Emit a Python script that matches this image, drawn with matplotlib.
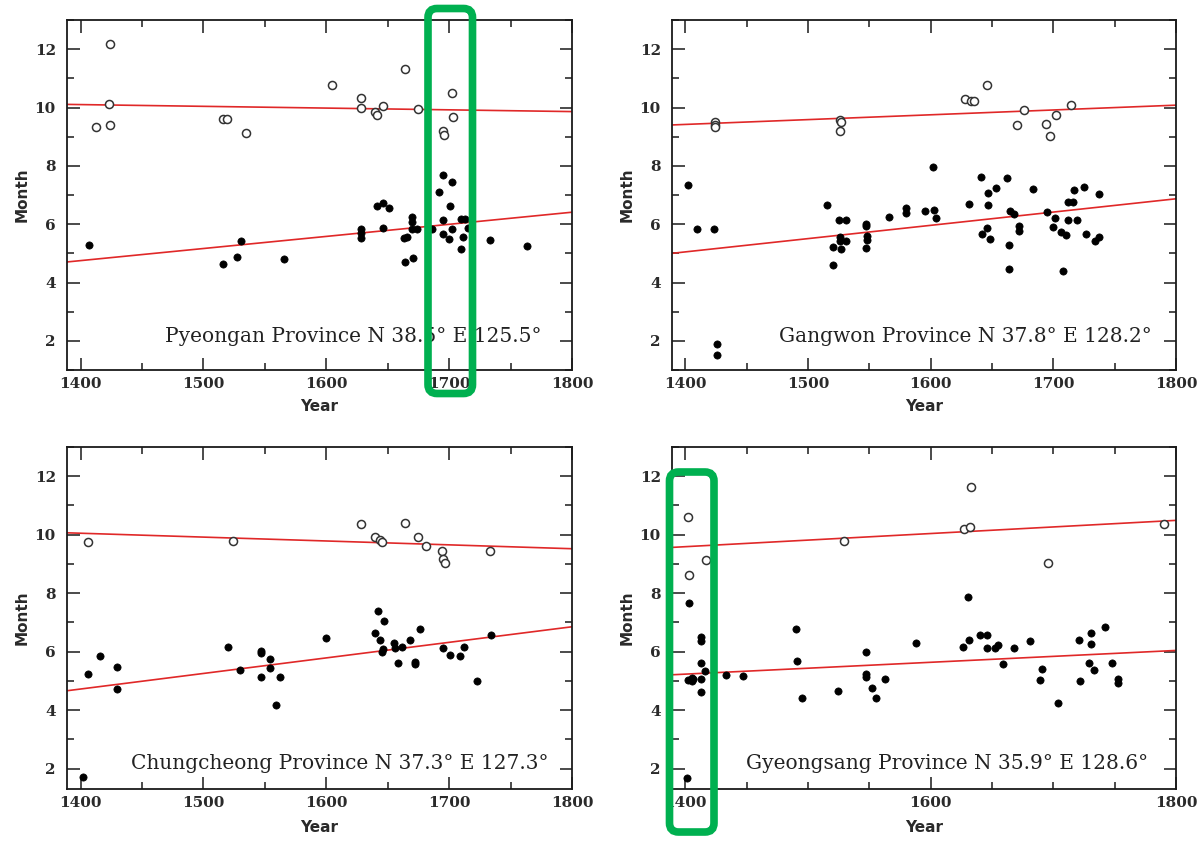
import matplotlib
matplotlib.use("Agg")
import matplotlib.pyplot as plt
from matplotlib.patches import FancyBboxPatch
from matplotlib.transforms import IdentityTransform
from matplotlib.ticker import MultipleLocator

# ---------------- data ----------------
trend_years = [1400, 1800]

# Pyeongan
pyeongan_open_year = [1424, 1423, 1413, 1424, 1516, 1519, 1535, 1605, 1664, 1628, 1628, 1640, 1641,
                      1646, 1675, 1702, 1703, 1695, 1696]
pyeongan_open_month = [12.17, 10.11, 9.34, 9.40, 9.62, 9.62, 9.14, 10.77, 11.31, 10.33, 9.99, 9.86, 9.76,
                       10.04, 9.95, 10.49, 9.69, 9.20, 9.06]
pyeongan_fill_year = [1407, 1516, 1527, 1531, 1566, 1628, 1628, 1628, 1641, 1646, 1651, 1646, 1664, 1671,
                      1663, 1666, 1670, 1670, 1670, 1674, 1686, 1695, 1702, 1692, 1701, 1695, 1695, 1700,
                      1702, 1710, 1713, 1711, 1710, 1715, 1733, 1763]
pyeongan_fill_month = [5.28, 4.65, 4.89, 5.44, 4.80, 5.82, 5.69, 5.51, 6.62, 6.71, 6.57, 5.87, 4.72, 4.84,
                       5.54, 5.57, 6.24, 6.08, 5.82, 5.82, 5.82, 7.69, 7.44, 7.09, 6.61, 6.16, 5.65, 5.49,
                       5.85, 6.19, 6.19, 5.56, 5.16, 5.86, 5.45, 5.24]
pyeongan_upper = [10.10, 9.86]
pyeongan_lower = [4.75, 6.41]

# Gangwon
gangwon_open_year = [1424, 1424, 1424, 1526, 1527, 1526, 1628, 1633, 1635, 1646, 1676, 1670, 1694,
                     1697, 1702, 1714]
gangwon_open_month = [9.49, 9.40, 9.32, 9.57, 9.52, 9.20, 10.29, 10.24, 10.23, 10.78, 9.92, 9.40, 9.43,
                      9.04, 9.75, 10.08]
gangwon_fill_year = [1402, 1409, 1423, 1426, 1426, 1515, 1520, 1520, 1525, 1531, 1526, 1526, 1527, 1531,
                     1547, 1547, 1548, 1548, 1547, 1566, 1580, 1580, 1595, 1602, 1603, 1604, 1631, 1641,
                     1647, 1653, 1662, 1647, 1642, 1646, 1648, 1665, 1668, 1664, 1664, 1672, 1672, 1683,
                     1695, 1701, 1700, 1706, 1710, 1708, 1712, 1716, 1717, 1712, 1719, 1725, 1727, 1734,
                     1737, 1737]
gangwon_fill_month = [7.33, 5.83, 5.83, 1.89, 1.50, 6.67, 5.22, 4.61, 6.16, 6.16, 5.56, 5.44, 5.15, 5.42,
                      6.02, 5.93, 5.60, 5.45, 5.17, 6.24, 6.55, 6.38, 6.46, 7.95, 6.47, 6.22, 6.70, 7.62,
                      7.08, 7.25, 7.57, 6.66, 5.66, 5.88, 5.49, 6.44, 6.34, 5.28, 4.45, 5.94, 5.75, 7.19,
                      6.42, 6.22, 5.92, 5.73, 5.62, 4.39, 6.76, 6.76, 7.18, 6.16, 6.16, 7.27, 5.66, 5.43,
                      5.56, 7.02]
gangwon_upper = [9.42, 10.08]
gangwon_lower = [5.05, 6.87]

# Chungcheong
chungcheong_open_year = [1406, 1524, 1628, 1640, 1644, 1645, 1664, 1675, 1681, 1694, 1695, 1697, 1733]
chungcheong_open_month = [9.76, 9.80, 10.38, 9.92, 9.83, 9.76, 10.40, 9.92, 9.63, 9.43, 9.18, 9.04, 9.43]
chungcheong_fill_year = [1402, 1406, 1416, 1430, 1430, 1520, 1530, 1547, 1547, 1547, 1554, 1554, 1562,
                         1559, 1600, 1642, 1647, 1640, 1644, 1645, 1646, 1655, 1656, 1662, 1658, 1668,
                         1672, 1672, 1676, 1695, 1701, 1709, 1712, 1723, 1734]
chungcheong_fill_month = [1.71, 5.23, 5.86, 5.48, 4.73, 6.15, 5.38, 6.01, 5.96, 5.14, 5.76, 5.45, 5.14,
                          4.16, 6.48, 7.39, 7.05, 6.63, 6.40, 5.98, 6.09, 6.28, 6.13, 6.17, 5.61, 6.40,
                          5.64, 5.57, 6.76, 6.12, 5.88, 5.86, 6.17, 5.01, 6.56]
chungcheong_upper = [10.05, 9.52]
chungcheong_lower = [4.72, 6.85]

# Gyeongsang
gyeongsang_open_year = [1402, 1403, 1417, 1529, 1633, 1627, 1632, 1696, 1790]
gyeongsang_open_month = [10.60, 8.61, 9.12, 9.80, 11.62, 10.20, 10.25, 9.03, 10.38]
gyeongsang_fill_year = [1403, 1401, 1402, 1405, 1405, 1406, 1413, 1413, 1413, 1416, 1413, 1413, 1433,
                        1447, 1490, 1491, 1495, 1524, 1547, 1547, 1547, 1552, 1555, 1563, 1588, 1626,
                        1631, 1630, 1640, 1646, 1646, 1652, 1655, 1659, 1668, 1681, 1691, 1689, 1704,
                        1721, 1731, 1731, 1742, 1729, 1733, 1722, 1748, 1753, 1753]
gyeongsang_fill_month = [7.68, 1.69, 5.04, 5.11, 4.99, 5.07, 6.50, 6.38, 5.60, 5.35, 5.05, 4.61, 5.20,
                         5.16, 6.78, 5.69, 4.43, 4.64, 5.97, 5.22, 5.12, 4.76, 4.41, 5.06, 6.29, 6.15,
                         6.41, 7.88, 6.58, 6.58, 6.12, 6.12, 6.21, 5.56, 6.12, 6.38, 5.40, 5.02, 4.23,
                         6.41, 6.62, 6.26, 6.84, 5.60, 5.38, 5.00, 5.62, 5.05, 4.91]
gyeongsang_upper = [9.59, 10.49]
gyeongsang_lower = [5.23, 6.04]

titles = ["Pyeongan Province N 38.5\u00b0 E 125.5\u00b0",
          "Gangwon Province N 37.8\u00b0 E 128.2\u00b0",
          "Chungcheong Province N 37.3\u00b0 E 127.3\u00b0",
          "Gyeongsang Province N 35.9\u00b0 E 128.6\u00b0"]

# ---------------- figure ----------------
W, H = 1200, 842
fig = plt.figure(figsize=(W / 100, H / 100), dpi=100)
fig.patch.set_facecolor("white")

def frac(l, t, r, b):
    return [l / W, 1 - b / H, (r - l) / W, (b - t) / H]

panels = [
    dict(rect=frac(67, 20, 572, 370), ylim=(1.0, 13.0), xmajor=100, title=titles[0], tx=1469,
         ox=pyeongan_open_year, oy=pyeongan_open_month, fx=pyeongan_fill_year, fy=pyeongan_fill_month,
         up=pyeongan_upper, lo=pyeongan_lower, xlab_y=-0.083),
    dict(rect=frac(672, 20, 1176, 370), ylim=(1.0, 13.0), xmajor=100, title=titles[1], tx=1476,
         ox=gangwon_open_year, oy=gangwon_open_month, fx=gangwon_fill_year, fy=gangwon_fill_month,
         up=gangwon_upper, lo=gangwon_lower, xlab_y=-0.083),
    dict(rect=frac(67, 447, 572, 789), ylim=(1.3, 13.0), xmajor=100, title=titles[2], tx=1441,
         ox=chungcheong_open_year, oy=chungcheong_open_month, fx=chungcheong_fill_year,
         fy=chungcheong_fill_month, up=chungcheong_upper, lo=chungcheong_lower, xlab_y=-0.09),
    dict(rect=frac(672, 447, 1176, 789), ylim=(1.3, 13.0), xmajor=200, title=titles[3], tx=1449,
         ox=gyeongsang_open_year, oy=gyeongsang_open_month, fx=gyeongsang_fill_year,
         fy=gyeongsang_fill_month, up=gyeongsang_upper, lo=gyeongsang_lower, xlab_y=-0.09),
]

ink = "#1a1a1a"
red = "#e02828"

for p in panels:
    ax = fig.add_axes(p["rect"])
    ax.set_xlim(1389, 1800)
    ax.set_ylim(*p["ylim"])
    ax.axline((trend_years[0], p["up"][0]), (trend_years[1], p["up"][1]), color=red, lw=1.2, zorder=2)
    ax.axline((trend_years[0], p["lo"][0]), (trend_years[1], p["lo"][1]), color=red, lw=1.2, zorder=2)
    ax.plot(p["fx"], p["fy"], ls="none", marker="o", ms=5.2, mfc="black", mec="black", mew=0.5, zorder=3)
    ax.plot(p["ox"], p["oy"], ls="none", marker="o", ms=5.8, mfc="white", mec="#333333", mew=1.1, zorder=3)

    ax.xaxis.set_major_locator(MultipleLocator(p["xmajor"]))
    ax.xaxis.set_minor_locator(MultipleLocator(50))
    ax.yaxis.set_major_locator(MultipleLocator(2))
    ax.yaxis.set_minor_locator(MultipleLocator(1))
    ax.tick_params(which="both", direction="in", top=True, right=True, color=ink, width=1.1)
    ax.tick_params(which="major", length=9)
    ax.tick_params(which="minor", length=5)
    ax.tick_params(axis="x", which="major", pad=5)
    ax.tick_params(axis="y", which="major", pad=8)
    for lab in ax.get_xticklabels() + ax.get_yticklabels():
        lab.set_fontfamily("DejaVu Serif")
        lab.set_fontsize(11)
        lab.set_fontweight("bold")
        lab.set_color("#2a2a2a")
    for s in ax.spines.values():
        s.set_linewidth(1.3)
        s.set_color(ink)

    ax.set_ylabel("Month", fontsize=11, family="DejaVu Sans", fontweight="bold", color="#2a2a2a")
    ax.yaxis.set_label_coords(-0.075, 0.5)
    ax.set_xlabel("Year", fontsize=11, family="DejaVu Sans", fontweight="bold", color="#2a2a2a")
    ax.xaxis.set_label_coords(0.5, p["xlab_y"])

    ax.text(p["tx"], 1.97, p["title"], ha="left", va="baseline",
            family="DejaVu Serif", fontsize=14.5, color="#222222", zorder=4)

# green highlight boxes (figure pixels, origin top-left converted to display)
def green_box(l, t, r, b):
    patch = FancyBboxPatch((l, H - b), r - l, b - t,
                           boxstyle="round,pad=0,rounding_size=9",
                           transform=IdentityTransform(), fill=False,
                           edgecolor="#00b050", linewidth=5.5, zorder=10)
    fig.add_artist(patch)

green_box(428, 8.5, 472.5, 393.5)
green_box(669.5, 472, 714, 832)

fig.savefig("out.png", dpi=100)
